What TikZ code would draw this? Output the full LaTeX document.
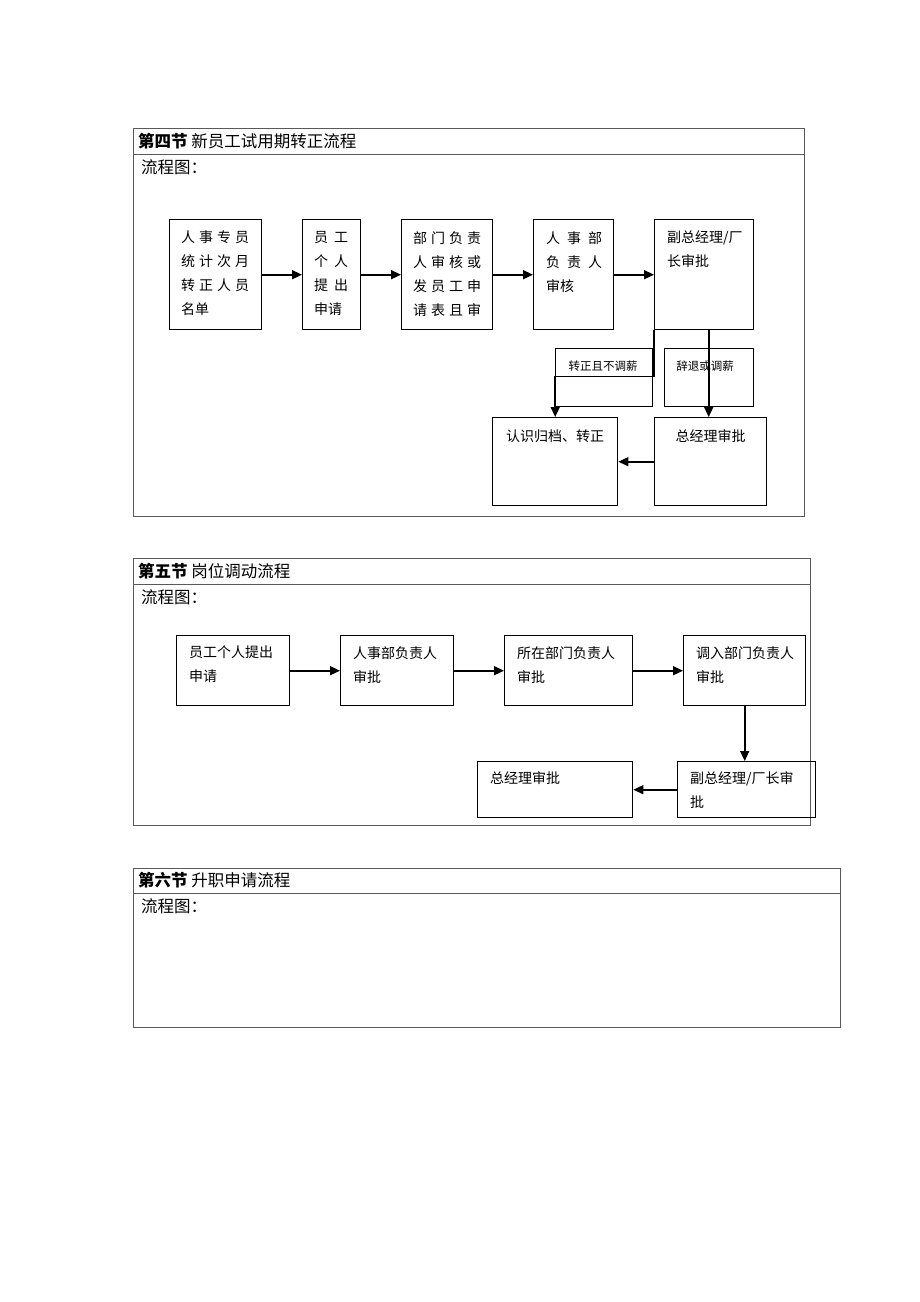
\documentclass[tikz,border=0pt]{standalone}
\usepackage{fontspec}
\setmainfont{Noto Sans CJK SC}
\usetikzlibrary{arrows.meta,positioning}

\newcommand\spread[1]{\spaceskip=#1pt\relax\ignorespaces}

\tikzset{
  frame/.style={draw=black!65, line width=0.8pt},
  box/.style={draw, line width=1.4pt, anchor=north west, inner sep=0pt},
  tagbox/.style={draw, line width=1.1pt, anchor=north west, inner sep=0pt},
  txt/.style={anchor=north west, align=left, inner sep=0pt,
    font=\fontsize{14pt}{24pt}\selectfont},
  tagtxt/.style={inner sep=0pt, font=\fontsize{11.5pt}{14pt}\selectfont},
  ttl/.style={anchor=west, inner sep=0pt, font=\fontsize{16.5pt}{18pt}\selectfont},
  arr/.style={-{Triangle[length=10pt,width=9pt]}, line width=1.6pt}
}

\begin{document}
\begin{tikzpicture}[x=1pt,y=-1pt]

    \useasboundingbox (0,0) rectangle (920,1302);

    % Section 4 frame
    \draw[frame] (133,128) rectangle (804,516);
    \draw[frame] (133,154) -- (804,154);
    \node[ttl] (h4) at (138,141) {\textbf{第四节} 新员工试用期转正流程};
    \node[ttl] (f4) at (141,167) {流程图：};

    % Top row of boxes
    \node[box, minimum width=92pt, minimum height=110pt] (b1) at (169,219) {};
    \node[txt] (b1t) at ([shift={(12,12)}]b1.north west)
      {\spread{4}人 事 专 员\\\spread{4}统 计 次 月\\\spread{4}转 正 人 员\\名单};
    \node[box, minimum width=58pt, minimum height=110pt] (b2) at (302,219) {};
    \node[txt] (b2t) at ([shift={(12,12)}]b2.north west)
      {\spread{6}员 工\\\spread{6}个 人\\\spread{6}提 出\\申请};
    \node[box, minimum width=91pt, minimum height=110pt] (b3) at (401,219) {};
    \node[txt] (b3t) at ([shift={(12,12)}]b3.north west)
      {\spread{4}部 门 负 责\\\spread{4}人 审 核 或\\\spread{4}发 员 工 申\\\spread{4}请 表 且 审};
    \node[box, minimum width=80pt, minimum height=110pt] (b4) at (533,219) {};
    \node[txt] (b4t) at ([shift={(13,12)}]b4.north west)
      {\spread{7}人 事 部\\\spread{7}负 责 人\\审核};
    \node[box, minimum width=99pt, minimum height=110pt] (b5) at (654,219) {};
    \node[txt] (b5t) at ([shift={(13,12)}]b5.north west) {副总经理/厂\\长审批};

    \draw[arr] (b1) -- (b2);
    \draw[arr] (b2) -- (b3);
    \draw[arr] (b3) -- (b4);
    \draw[arr] (b4) -- (b5);

    % Condition tags
    \node[tagbox, minimum width=97pt, minimum height=58pt] (k1) at (555,348) {};
    \node[tagtxt] (k1t) at (603,366) {转正且不调薪};
    \node[tagbox, minimum width=89pt, minimum height=58pt] (k2) at (664,348) {};
    \node[tagtxt] (k2t) at (705,366) {辞退或调薪};

    % Bottom row
    \node[box, minimum width=125pt, minimum height=88pt] (r1) at (492,417) {};
    \node[txt, anchor=center] (r1t) at ([shift={(0,19)}]r1.north) {认识归档、转正};
    \node[box, minimum width=112pt, minimum height=88pt] (g1) at (654,417) {};
    \node[txt, anchor=center] (g1t) at ([shift={(0,19)}]g1.north) {总经理审批};

    \draw[arr] (b5.south west) -- ++(0,46) -| (r1.north);
    \draw[arr] ([shift={(-2,0)}]g1.north |- b5.south) -- ([shift={(-2,0)}]g1.north);
    \draw[arr] (g1) -- (r1);

    % Section 5 frame
    \draw[frame] (133,558) rectangle (810,825);
    \draw[frame] (133,584) -- (810,584);
    \node[ttl] (h5) at (138,571) {\textbf{第五节} 岗位调动流程};
    \node[ttl] (f5) at (141,597) {流程图：};

    \node[box, minimum width=113pt, minimum height=70pt] (c1) at (176,635) {};
    \node[txt] (c1t) at ([shift={(13,11)}]c1.north west) {员工个人提出\\申请};
    \node[box, minimum width=113pt, minimum height=70pt] (c2) at (340,635) {};
    \node[txt] (c2t) at ([shift={(13,11)}]c2.north west) {人事部负责人\\审批};
    \node[box, minimum width=128pt, minimum height=70pt] (c3) at (504,635) {};
    \node[txt] (c3t) at ([shift={(13,11)}]c3.north west) {所在部门负责人\\审批};
    \node[box, minimum width=122pt, minimum height=70pt] (c4) at (683,635) {};
    \node[txt] (c4t) at ([shift={(13,11)}]c4.north west) {调入部门负责人\\审批};
    \node[box, minimum width=138pt, minimum height=56pt] (c5) at (677,761) {};
    \node[txt] (c5t) at ([shift={(13,10)}]c5.north west) {副总经理/厂长审\\批};
    \node[box, minimum width=155pt, minimum height=56pt] (c6) at (477,761) {};
    \node[txt] (c6t) at ([shift={(13,10)}]c6.north west) {总经理审批};

    \draw[arr] (c1) -- (c2);
    \draw[arr] (c2) -- (c3);
    \draw[arr] (c3) -- (c4);
    \draw[arr] (c4.south) -- (c4.south |- c5.north);
    \draw[arr] (c5) -- (c6);

    % Section 6 frame
    \draw[frame] (133,868) rectangle (840,1027);
    \draw[frame] (133,893) -- (840,893);
    \node[ttl] (h6) at (138,880) {\textbf{第六节} 升职申请流程};
    \node[ttl] (f6) at (141,906) {流程图：};

  \end{tikzpicture}
\end{document}
